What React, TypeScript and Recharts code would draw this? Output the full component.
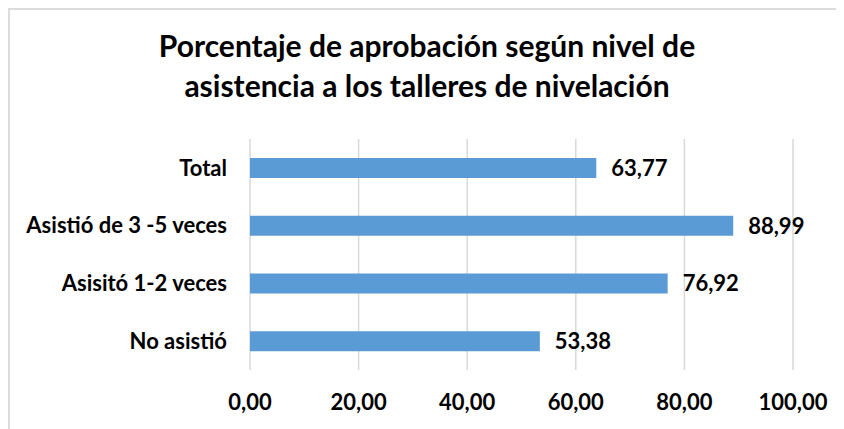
import React from 'react';
import { BarChart, Bar, XAxis, YAxis, CartesianGrid, LabelList } from 'recharts';

const categories = ['Total', 'Asistió de 3 -5 veces', 'Asisitó 1-2 veces', 'No asistió'];
const values = [63.77, 88.99, 76.92, 53.38];
const xTicks = [0, 20, 40, 60, 80, 100];

const data = categories.map((name, i) => ({ name, value: values[i] }));

const fmt = (v: any) => Number(v).toFixed(2).replace('.', ',');

const FONT = 'Lato, "Open Sans", sans-serif';

export default function App() {
  return (
    <div
      style={{
        position: 'fixed',
        top: 8,
        left: 8,
        width: 826,
        height: 419,
        borderTop: '2px solid #dcdcdc',
        borderLeft: '2px solid #dcdcdc',
        fontFamily: FONT,
        background: '#fff',
        overflow: 'hidden',
      }}
    >
      {/* Title */}
      <div
        style={{
          position: 'absolute',
          top: 15,
          left: 0,
          width: 834,
          textAlign: 'center',
          fontSize: 30,
          fontWeight: 700,
          lineHeight: '40px',
          color: '#000',
        }}
      >
        Porcentaje de aprobación según nivel de
        <br />
        asistencia a los talleres de nivelación
      </div>

      <BarChart
        width={826}
        height={419}
        data={data}
        layout="vertical"
        margin={{ top: 129, right: 43, left: 0, bottom: 19 }}
        style={{ position: 'absolute', top: 0, left: 0 }}
      >
        <CartesianGrid horizontal={false} stroke="#d9d9d9" strokeWidth={1.5} />
        <XAxis
          type="number"
          domain={[0, 100]}
          ticks={xTicks}
          tickFormatter={fmt}
          axisLine={false}
          tickLine={false}
          tickSize={0}
          tickMargin={24}
          height={40}
          tick={{ fontSize: 22, fontWeight: 700, fill: '#000', fontFamily: FONT }}
        />
        <YAxis
          type="category"
          dataKey="name"
          width={240}
          axisLine={false}
          tickLine={false}
          tickSize={0}
          tickMargin={23}
          tick={{ fontSize: 22, fontWeight: 700, fill: '#000', fontFamily: FONT }}
        />
        <Bar dataKey="value" fill="#5b9bd5" barSize={20} isAnimationActive={false}>
          <LabelList
            dataKey="value"
            position="right"
            offset={15}
            formatter={fmt}
            style={{ fontSize: 22, fontWeight: 700, fill: '#000', fontFamily: FONT }}
          />
        </Bar>
      </BarChart>
    </div>
  );
}
